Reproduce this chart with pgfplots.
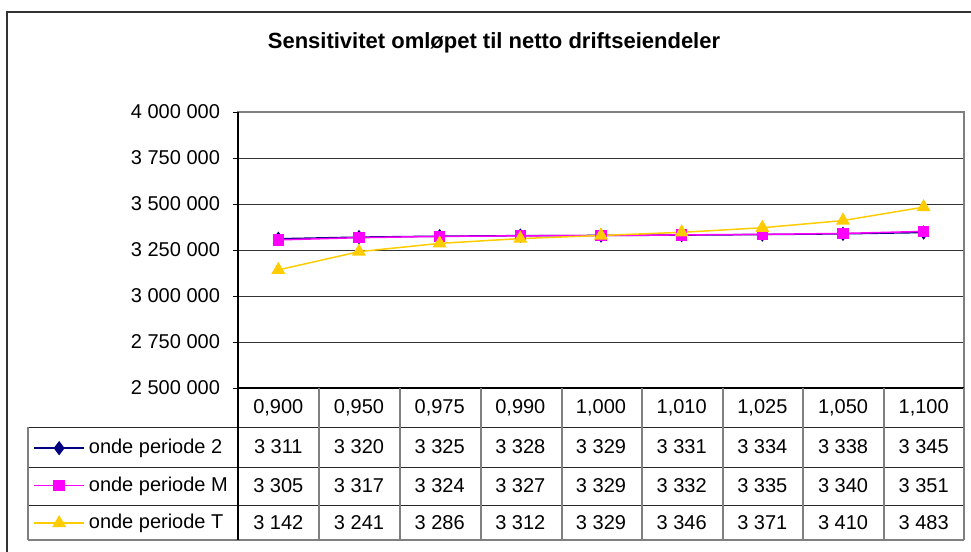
\documentclass[border=0pt]{standalone}
\usepackage{pgfplots}
\pgfplotsset{compat=1.18}
\usepackage{fontspec}
\setmainfont{Liberation Sans}
\definecolor{sNavy}{HTML}{000080}
\definecolor{sMag}{HTML}{FF00FF}
\definecolor{sGold}{HTML}{FFCC00}
\definecolor{frameGray}{HTML}{808080}
\begin{document}
\begin{tikzpicture}
\useasboundingbox (0pt,0pt) rectangle (485.5pt,-276pt);
\begin{axis}[
  at={(119pt,-194pt)}, anchor=south west,
  scale only axis, width=363pt, height=138pt,
  xmin=-0.5, xmax=8.5, ymin=2500000, ymax=4000000,
  ytick={2500000,2750000,3000000,3250000,3500000,3750000,4000000},
  yticklabels={2 500 000,2 750 000,3 000 000,3 250 000,3 500 000,3 750 000,4 000 000},
  scaled y ticks=false,
  xtick=\empty, ytick pos=left,
  ymajorgrids, grid style={black!80, line width=0.5pt},
  axis line style={frameGray, line width=0.6pt},
  tick align=outside, major tick length=2.5pt,
  ytick style={black, line width=0.5pt},
  yticklabel style={font=\fontsize{10}{12}\selectfont, anchor=east, xshift=-3pt},
  legend cell align=left,
  legend image code/.code={\draw[mark repeat=2,mark phase=2] plot coordinates {(0pt,0pt) (12.5pt,0pt) (25pt,0pt)};},
  legend style={at={(-0.2824,-0.1703)}, anchor=north west, draw=none, fill=none,
    inner sep=0pt, row sep=6pt, font=\fontsize{10}{12}\selectfont},
  clip=false,
]
\addplot[sNavy, line width=0.75pt, mark=diamond*, mark size=3pt, mark options={fill=sNavy, solid}]
  coordinates {(0,3311000) (1,3320000) (2,3325000) (3,3328000) (4,3329000) (5,3331000) (6,3334000) (7,3338000) (8,3345000)};
\addlegendentry{onde periode 2}
\addplot[sMag, line width=0.75pt, mark=square*, mark size=2.5pt, mark options={fill=sMag, solid}]
  coordinates {(0,3305000) (1,3317000) (2,3324000) (3,3327000) (4,3329000) (5,3332000) (6,3335000) (7,3340000) (8,3351000)};
\addlegendentry{onde periode M}
\addplot[sGold, line width=0.75pt, mark=triangle*, mark size=3.3pt, mark options={fill=sGold, solid}]
  coordinates {(0,3142000) (1,3241000) (2,3286000) (3,3312000) (4,3329000) (5,3346000) (6,3371000) (7,3410000) (8,3483000)};
\addlegendentry{onde periode T}
\draw[black, line width=0.6pt] (rel axis cs:0,1) -- (rel axis cs:0,0) -- (rel axis cs:1,0);
\end{axis}
\begin{scope}[x=0.5pt, y=-0.5pt]
  \draw[black!80, line width=1pt] (7,552) -- (7,12) -- (971,12);
  \node[font=\fontsize{11}{13}\selectfont\bfseries] at (494,43) {Sensitivitet omløpet til netto driftseiendeler};
  \foreach \yy in {427,467,505} \draw[black!85, line width=0.5pt] (28,\yy) -- (964,\yy);
  \draw[frameGray, line width=0.6pt] (28,540) -- (964,540);
  \draw[frameGray, line width=0.6pt] (28,427) -- (28,540);
  \draw[black, line width=0.6pt] (238,388) -- (238,540);
  \foreach \xx in {319,400,481,562,642,723,803,884,964} \draw[frameGray, line width=0.6pt] (\xx,388) -- (\xx,540);
  \foreach \t [count=\i from 0] in {{0,900},{0,950},{0,975},{0,990},{1,000},{1,010},{1,025},{1,050},{1,100}}
    \node[font=\fontsize{10}{12}\selectfont] at ({238+80.67*(\i+0.5)},408) {\t};
  \foreach \t [count=\i from 0] in {3 311,3 320,3 325,3 328,3 329,3 331,3 334,3 338,3 345}
    \node[font=\fontsize{10}{12}\selectfont] at ({238+80.67*(\i+0.5)},447) {\t};
  \foreach \t [count=\i from 0] in {3 305,3 317,3 324,3 327,3 329,3 332,3 335,3 340,3 351}
    \node[font=\fontsize{10}{12}\selectfont] at ({238+80.67*(\i+0.5)},486) {\t};
  \foreach \t [count=\i from 0] in {3 142,3 241,3 286,3 312,3 329,3 346,3 371,3 410,3 483}
    \node[font=\fontsize{10}{12}\selectfont] at ({238+80.67*(\i+0.5)},523) {\t};
\end{scope}
\end{tikzpicture}
\end{document}
